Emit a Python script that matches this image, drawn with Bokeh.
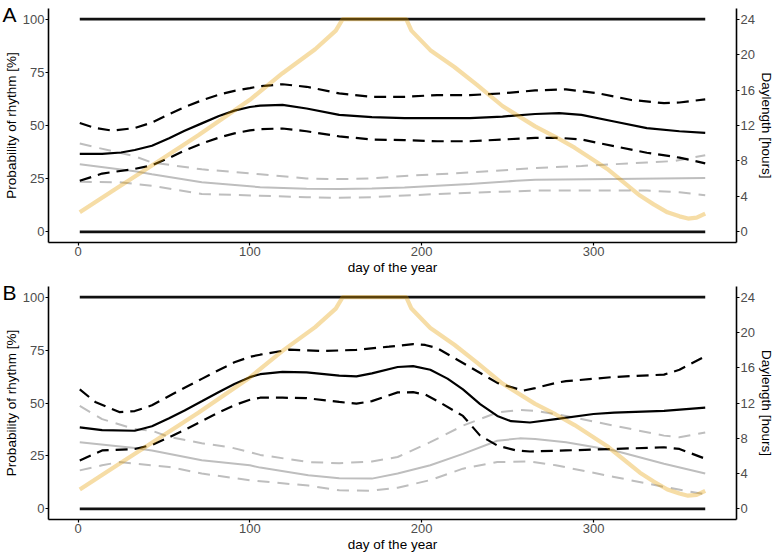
from bokeh.plotting import figure
from bokeh.models import Range1d, LinearAxis, FixedTicker, Title
from bokeh.layouts import column
from bokeh.embed import file_html
from bokeh.resources import INLINE

# ---------------- data ----------------
# daylength (hours) shared by both panels
dl_day = [1, 20, 43, 70, 100, 119, 138, 150, 154, 191, 194, 205, 219, 232, 247,
          266, 278, 289, 308, 327, 335, 343, 350, 355, 360, 365]
dl_hours = [2.2, 4.6, 7.5, 10.9, 14.9, 17.9, 20.6, 22.7, 24.0, 24.0, 22.7, 20.5,
            18.6, 16.6, 14.2, 11.9, 10.7, 9.5, 7.1, 4.1, 3.1, 2.2, 1.75, 1.5, 1.6, 2.05]

# reference levels (0 % and 100 %) over the day span
ref_levels = [0, 100]
ref_span = [1, 365]

# Panel A
A_mean_day = [1, 14, 25, 33, 43, 53, 62, 72, 82, 91, 100, 106, 119, 133, 152, 171, 190,
              209, 228, 247, 266, 280, 293, 312, 331, 350, 365]
A_mean = [36.7, 36.7, 37.3, 38.5, 40.5, 44.0, 47.5, 51.0, 54.5, 57.0, 58.7, 59.3, 59.7,
          58.0, 55.0, 53.9, 53.5, 53.5, 53.5, 54.2, 55.4, 55.8, 55.0, 51.9, 48.8, 47.3, 46.5]
A_up_day = [1, 10, 20, 33, 43, 53, 62, 72, 82, 91, 100, 106, 119, 133, 152, 171, 190,
            209, 228, 247, 266, 284, 303, 322, 341, 350, 365]
A_up = [51.2, 48.8, 47.6, 48.8, 51.4, 55.3, 58.7, 61.8, 64.5, 66.3, 67.6, 68.5, 69.4,
        68.2, 65.1, 63.5, 63.5, 64.3, 64.3, 65.1, 66.5, 67.0, 65.1, 62.0, 60.5, 60.8, 62.3]
A_lo_day = [1, 14, 33, 43, 53, 62, 72, 82, 91, 100, 106, 119, 133, 152, 171, 190, 209,
            228, 247, 266, 280, 293, 312, 331, 350, 365]
A_lo = [24.0, 27.4, 29.6, 31.3, 34.8, 38.2, 41.5, 44.3, 46.3, 47.7, 48.3, 48.6, 47.3,
        44.9, 43.4, 43.1, 42.6, 42.6, 43.4, 44.2, 44.2, 43.4, 40.3, 37.2, 34.9, 32.2]
A_gmean_day = [1, 33, 43, 72, 106, 133, 152, 171, 190, 228, 255, 266, 312, 365]
A_gmean = [31.8, 28.5, 27.1, 23.3, 21.0, 20.3, 20.2, 20.4, 20.9, 22.5, 24.0, 24.5, 24.9, 25.3]
A_gup_day = [1, 33, 43, 72, 106, 133, 152, 171, 190, 228, 255, 266, 293, 331, 347, 365]
A_gup = [41.5, 35.5, 32.6, 29.4, 27.1, 25.1, 24.8, 25.1, 26.3, 27.9, 29.4, 30.0, 31.0,
         32.6, 33.3, 36.0]
A_glo_day = [1, 24, 43, 72, 106, 133, 152, 171, 209, 247, 266, 293, 331, 350, 365]
A_glo = [23.5, 23.3, 21.7, 17.8, 17.0, 16.3, 16.0, 16.3, 17.8, 18.9, 19.4, 19.4, 19.4, 18.6, 17.2]

# Panel B
B_mean_day = [1, 14, 33, 43, 53, 62, 72, 82, 91, 100, 106, 119, 133, 152, 162, 171, 186,
              195, 205, 215, 224, 234, 244, 252, 263, 278, 300, 312, 341, 365]
B_mean = [38.5, 37.2, 36.9, 39.0, 42.8, 46.5, 50.8, 55.2, 59.0, 62.2, 63.6, 64.7, 64.5,
          62.9, 62.6, 64.0, 67.0, 67.4, 65.7, 61.5, 56.4, 49.5, 43.9, 41.4, 40.8, 42.4,
          44.8, 45.5, 46.3, 47.8]
B_up_day = [1, 10, 24, 33, 43, 53, 62, 72, 82, 91, 100, 106, 123, 142, 162, 181, 195, 202,
            209, 224, 244, 259, 266, 278, 284, 312, 341, 350, 365]
B_up = [56.4, 50.5, 45.7, 46.2, 48.9, 53.3, 57.2, 61.4, 65.6, 69.2, 71.8, 72.8, 75.2,
        74.5, 75.1, 76.6, 77.8, 77.4, 75.9, 68.9, 59.5, 55.8, 57.0, 59.5, 60.3, 62.3,
        63.4, 65.7, 72.0]
B_lo_day = [1, 14, 33, 43, 53, 62, 72, 82, 91, 100, 106, 119, 133, 152, 162, 171, 186,
            195, 202, 209, 224, 234, 244, 255, 263, 284, 312, 341, 350, 365]
B_lo = [22.9, 27.6, 28.3, 30.2, 33.8, 37.3, 41.4, 45.6, 49.0, 51.5, 52.5, 52.5, 52.3,
        50.5, 49.7, 50.9, 55.0, 55.1, 54.0, 51.0, 43.9, 34.6, 29.9, 27.6, 27.1, 27.6,
        28.3, 29.1, 28.3, 23.7]
B_gmean_day = [1, 33, 43, 72, 100, 106, 134, 152, 171, 186, 205, 224, 244, 257, 266,
               284, 312, 341, 365]
B_gmean = [31.5, 28.8, 27.6, 23.0, 20.6, 19.5, 15.9, 14.5, 14.3, 16.7, 20.6, 26.0, 32.2,
           33.3, 33.0, 31.5, 27.6, 21.3, 16.7]
B_gup_day = [1, 14, 33, 43, 53, 72, 89, 106, 134, 152, 171, 186, 205, 224, 244, 257,
             266, 284, 312, 341, 350, 365]
B_gup = [48.6, 42.4, 37.7, 36.9, 34.0, 31.0, 29.0, 25.5, 22.1, 21.6, 22.4, 24.5, 31.5,
         39.3, 45.5, 46.7, 46.3, 43.9, 39.3, 34.6, 33.8, 36.1]
B_glo_day = [1, 14, 24, 43, 53, 72, 100, 134, 152, 171, 186, 205, 224, 244, 263, 278,
             312, 341, 365]
B_glo = [18.2, 20.6, 22.1, 20.6, 19.8, 16.7, 13.5, 11.0, 8.8, 8.6, 10.0, 13.6, 19.0,
         22.1, 22.4, 20.6, 15.1, 10.4, 6.9]

x_ticks = [0, 100, 200, 300]
y_ticks = [0, 25, 50, 75, 100]
h_ticks = [0, 4, 8, 12, 16, 20, 24]

FONT = "Liberation Sans"
GRAY = "#BEBEBE"
ORANGE = "#E69F00"


def style_axis(ax, ticks, label):
    ax.ticker = FixedTicker(ticks=ticks)
    ax.axis_label = label
    ax.axis_line_color = "black"
    ax.axis_line_width = 1.6
    ax.major_tick_line_color = "black"
    ax.major_tick_line_width = 1.2
    ax.major_tick_out = 3
    ax.major_tick_in = 0
    ax.minor_tick_line_color = None
    ax.major_label_text_color = "#4D4D4D"
    ax.major_label_text_font = FONT
    ax.major_label_text_font_size = "13px"
    ax.major_label_standoff = 1
    ax.axis_label_text_font = FONT
    ax.axis_label_text_font_size = "13.5px"
    ax.axis_label_text_font_style = "normal"
    ax.axis_label_text_color = "black"
    ax.axis_label_standoff = 1


def make_panel(letter, top, series):
    p = figure(width=776, height=277, output_backend="svg", toolbar_location=None,
               x_range=Range1d(-17.2, 383.2), y_range=Range1d(-5, 105),
               min_border_left=45, min_border_right=33, min_border_top=top,
               min_border_bottom=33)
    p.extra_y_ranges = {"hours": Range1d(-5 * 0.24, 105 * 0.24)}
    p.grid.visible = False
    p.outline_line_color = None
    p.background_fill_color = "white"
    p.border_fill_color = "white"
    style_axis(p.xaxis[0], x_ticks, "day of the year")
    style_axis(p.yaxis[0], y_ticks, "Probability of rhythm [%]")
    rax = LinearAxis(y_range_name="hours")
    style_axis(rax, h_ticks, "Daylength [hours]")
    p.add_layout(rax, "right")

    for lvl in ref_levels:
        p.line(ref_span, [lvl, lvl], line_color="#111111", line_width=2.6)

    (m_d, m), (u_d, u), (l_d, l), (gm_d, gm), (gu_d, gu), (gl_d, gl) = series
    p.line(gu_d, gu, line_color=GRAY, line_width=2, line_dash="12 8")
    p.line(gl_d, gl, line_color=GRAY, line_width=2, line_dash="12 8")
    p.line(gm_d, gm, line_color=GRAY, line_width=2)
    p.line(u_d, u, line_color="black", line_width=2.2, line_dash="12 7")
    p.line(l_d, l, line_color="black", line_width=2.2, line_dash="12 7")
    p.line(m_d, m, line_color="black", line_width=2.2)
    p.line(dl_day, dl_hours, y_range_name="hours", line_color=ORANGE,
           line_alpha=0.35, line_width=4.2)

    # panel letter: a title whose negative standoff lets it sit in the top-left corner
    p.add_layout(Title(text=letter, align="left", vertical_align="bottom",
                       text_font=FONT, text_font_size="21px", text_font_style="normal",
                       text_color="black", standoff=-34, offset=-46), "above")
    return p


pA = make_panel("A", 8, [(A_mean_day, A_mean), (A_up_day, A_up), (A_lo_day, A_lo),
                         (A_gmean_day, A_gmean), (A_gup_day, A_gup), (A_glo_day, A_glo)])
pB = make_panel("B", 9, [(B_mean_day, B_mean), (B_up_day, B_up), (B_lo_day, B_lo),
                         (B_gmean_day, B_gmean), (B_gup_day, B_gup), (B_glo_day, B_glo)])

layout = column(pA, pB, spacing=0)
open("out.html", "w").write(file_html(layout, INLINE))
